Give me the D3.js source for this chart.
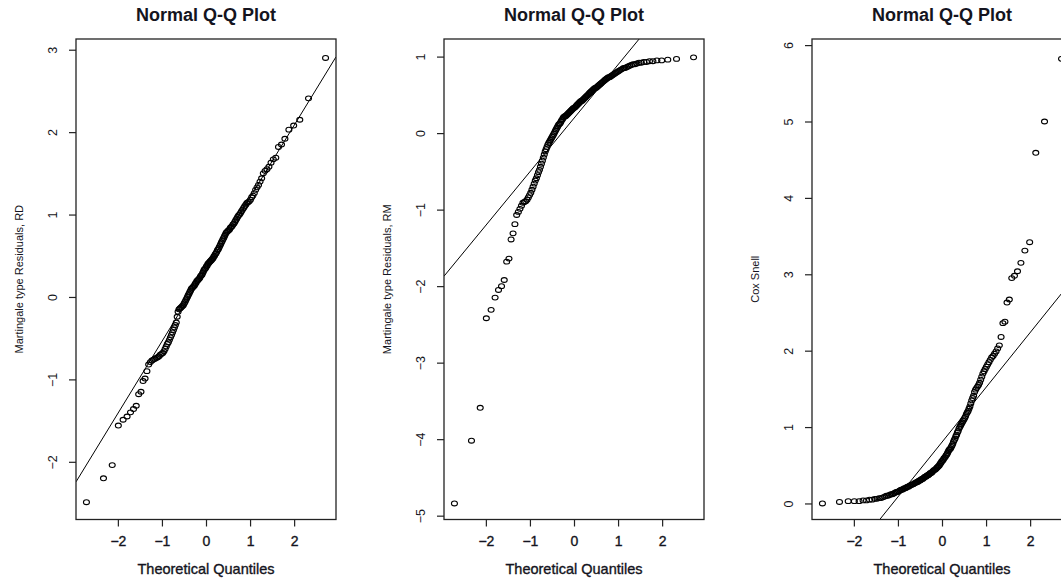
<!DOCTYPE html>
<html>
<head>
<meta charset="utf-8">
<script src="https://cdn.jsdelivr.net/npm/d3@7"></script>
<style>
body { margin: 0; background: #fff; }
svg { display: block; font-family: "Liberation Sans", Arial, sans-serif; }
</style>
</head>
<body>
<div class="div-chart"></div>
<script>
// sorted sample values (n = 150 each)
const rdValues = [
  -2.49,-2.20,-2.04,-1.56,-1.49,-1.45,-1.40,-1.36,-1.32,-1.18,
  -1.15,-1.02,-0.99,-0.90,-0.82,-0.79,-0.77,-0.76,-0.75,-0.74,
  -0.73,-0.72,-0.70,-0.69,-0.68,-0.66,-0.63,-0.60,-0.57,-0.55,
  -0.52,-0.49,-0.46,-0.43,-0.40,-0.37,-0.34,-0.31,-0.24,-0.18,
  -0.15,-0.14,-0.13,-0.12,-0.11,-0.10,-0.08,-0.06,-0.04,-0.02,
  0.00,0.02,0.04,0.06,0.08,0.10,0.11,0.12,0.13,0.14,
  0.16,0.17,0.19,0.20,0.21,0.22,0.23,0.25,0.26,0.27,
  0.29,0.31,0.33,0.34,0.35,0.37,0.38,0.40,0.41,0.42,
  0.43,0.44,0.45,0.46,0.47,0.49,0.50,0.52,0.53,0.55,
  0.57,0.58,0.60,0.62,0.64,0.66,0.68,0.70,0.72,0.74,
  0.76,0.78,0.79,0.80,0.81,0.82,0.84,0.85,0.86,0.88,
  0.89,0.91,0.93,0.95,0.97,0.99,1.00,1.02,1.04,1.06,
  1.08,1.10,1.12,1.14,1.15,1.16,1.18,1.21,1.23,1.26,
  1.30,1.33,1.36,1.40,1.44,1.50,1.53,1.55,1.58,1.63,
  1.67,1.69,1.82,1.85,1.92,2.03,2.08,2.15,2.41,2.90
];

const rmValues = [
  -4.84,-4.02,-3.59,-2.42,-2.31,-2.15,-2.05,-2.00,-1.92,-1.68,
  -1.64,-1.39,-1.31,-1.19,-1.07,-1.03,-0.99,-0.95,-0.91,-0.90,
  -0.89,-0.87,-0.84,-0.81,-0.78,-0.74,-0.70,-0.66,-0.62,-0.59,
  -0.55,-0.51,-0.48,-0.44,-0.40,-0.36,-0.32,-0.28,-0.24,-0.21,
  -0.18,-0.15,-0.13,-0.11,-0.09,-0.07,-0.05,-0.03,-0.01,0.01,
  0.03,0.05,0.07,0.09,0.11,0.12,0.13,0.15,0.17,0.18,
  0.20,0.21,0.22,0.22,0.23,0.24,0.25,0.26,0.27,0.28,
  0.29,0.30,0.31,0.32,0.33,0.33,0.34,0.35,0.36,0.37,
  0.38,0.39,0.40,0.41,0.42,0.42,0.43,0.44,0.45,0.46,
  0.47,0.48,0.49,0.50,0.51,0.52,0.53,0.54,0.55,0.56,
  0.57,0.58,0.59,0.59,0.60,0.61,0.62,0.63,0.64,0.65,
  0.66,0.67,0.68,0.69,0.70,0.71,0.72,0.73,0.73,0.74,
  0.75,0.76,0.77,0.78,0.79,0.80,0.81,0.82,0.83,0.84,
  0.85,0.85,0.86,0.87,0.88,0.89,0.90,0.90,0.91,0.92,
  0.92,0.93,0.93,0.94,0.94,0.95,0.95,0.96,0.97,0.99
];

const csValues = [
  0.00,0.02,0.03,0.03,0.03,0.04,0.04,0.05,0.05,0.06,
  0.06,0.07,0.07,0.08,0.09,0.10,0.10,0.11,0.12,0.12,
  0.13,0.14,0.15,0.15,0.16,0.17,0.18,0.18,0.19,0.20,
  0.20,0.21,0.22,0.22,0.23,0.24,0.24,0.25,0.25,0.26,
  0.27,0.27,0.28,0.28,0.29,0.30,0.30,0.31,0.32,0.32,
  0.33,0.34,0.35,0.35,0.36,0.37,0.37,0.38,0.39,0.40,
  0.40,0.41,0.42,0.43,0.44,0.44,0.45,0.46,0.47,0.48,
  0.49,0.50,0.52,0.53,0.55,0.56,0.57,0.59,0.60,0.61,
  0.63,0.64,0.66,0.68,0.70,0.71,0.72,0.74,0.76,0.78,
  0.81,0.83,0.85,0.88,0.90,0.93,0.95,0.98,1.00,1.02,
  1.04,1.06,1.08,1.10,1.12,1.14,1.17,1.19,1.21,1.24,
  1.27,1.31,1.35,1.38,1.41,1.46,1.49,1.51,1.53,1.55,
  1.58,1.62,1.66,1.70,1.73,1.76,1.79,1.82,1.85,1.88,
  1.91,1.93,1.96,1.99,2.03,2.07,2.18,2.36,2.38,2.63,
  2.67,2.95,2.98,3.04,3.15,3.31,3.42,4.59,5.00,5.82
];

const titles = ['Normal Q-Q Plot', 'Normal Q-Q Plot', 'Normal Q-Q Plot'];
const yLabels = ['Martingale type Residuals, RD', 'Martingale type Residuals, RM', 'Cox Snell'];
const xLabel = 'Theoretical Quantiles';
const xDomain = [-2.95, 2.95];
const xTicks = [-2, -1, 0, 1, 2];
const yDomains = [[-2.70, 3.13], [-5.05, 1.23], [-0.21, 6.08]];
const yTicks = [[-2, -1, 0, 1, 2, 3], [-5, -4, -3, -2, -1, 0, 1], [0, 1, 2, 3, 4, 5, 6]];
// reference line (qqline)
const lineIntercepts = [0.335, 0.195, 0.803];
const lineSlopes = [0.874, 0.70, 0.717];

// inverse normal cdf (Acklam)
function qnorm(p) {
    const a = [-39.69683028665376, 220.9460984245205, -275.9285104469687, 138.3577518672690, -30.66479806614716, 2.506628277459239];
    const b = [-54.47609879822406, 161.5858368580409, -155.6989798598866, 66.80131188771972, -13.28068155288572];
    const c = [-0.007784894002430293, -0.3223964580411365, -2.400758277161838, -2.549732539343734, 4.374664141464968, 2.938163982698783];
    const d = [0.007784695709041462, 0.3224671290700398, 2.445134137142996, 3.754408661907416];
    const plow = 0.02425;
    let q, r;
    if (p < plow) {
        q = Math.sqrt(-2 * Math.log(p));
        return (((((c[0]*q+c[1])*q+c[2])*q+c[3])*q+c[4])*q+c[5]) / ((((d[0]*q+d[1])*q+d[2])*q+d[3])*q+1);
    }
    if (p > 1 - plow) {
        q = Math.sqrt(-2 * Math.log(1 - p));
        return -(((((c[0]*q+c[1])*q+c[2])*q+c[3])*q+c[4])*q+c[5]) / ((((d[0]*q+d[1])*q+d[2])*q+d[3])*q+1);
    }
    q = p - 0.5;
    r = q * q;
    return (((((a[0]*r+a[1])*r+a[2])*r+a[3])*r+a[4])*r+a[5])*q / (((((b[0]*r+b[1])*r+b[2])*r+b[3])*r+b[4])*r+1);
}

const samples = [rdValues, rmValues, csValues];

const width = 1061, height = 579;
const panelLeft = [76, 444, 812];
const boxW = 260, boxTop = 39, boxBottom = 519.5;
const ink = '#141420';

const svg = d3.select('.div-chart')
    .append('svg')
    .attr('width', width)
    .attr('height', height);

samples.forEach((values, k) => {
    const n = values.length;
    const pts = values.map((v, i) => ({ x: qnorm((i + 0.5) / n), y: v }));

    const xScale = d3.scaleLinear().domain(xDomain).range([0, boxW]);
    const yScale = d3.scaleLinear().domain(yDomains[k]).range([boxBottom - boxTop, 0]);
    const innerH = boxBottom - boxTop;

    const g = svg.append('g')
        .attr('transform', `translate(${panelLeft[k]},${boxTop})`);

    g.append('clipPath').attr('id', 'clip' + k)
        .append('rect').attr('width', boxW).attr('height', innerH);

    // qqline
    g.append('line')
        .attr('clip-path', `url(#clip${k})`)
        .attr('x1', xScale(xDomain[0]))
        .attr('y1', yScale(lineIntercepts[k] + lineSlopes[k] * xDomain[0]))
        .attr('x2', xScale(xDomain[1]))
        .attr('y2', yScale(lineIntercepts[k] + lineSlopes[k] * xDomain[1]))
        .attr('stroke', '#000')
        .attr('stroke-width', 1);

    // points
    g.selectAll('.dot')
        .data(pts)
        .enter().append('ellipse')
        .attr('class', 'dot')
        .attr('cx', d => xScale(d.x))
        .attr('cy', d => yScale(d.y))
        .attr('rx', 3)
        .attr('ry', 2.4)
        .attr('fill', 'none')
        .attr('stroke', '#000')
        .attr('stroke-width', 1.1);

    // box
    g.append('rect')
        .attr('width', boxW)
        .attr('height', innerH)
        .attr('fill', 'none')
        .attr('stroke', '#222')
        .attr('stroke-width', 1.3);

    // x axis
    const xAxis = g.append('g')
        .attr('transform', `translate(0,${innerH})`)
        .call(d3.axisBottom(xScale).tickValues(xTicks).tickSize(7).tickPadding(10).tickFormat(d3.format('d')));
    xAxis.select('.domain').remove();
    xAxis.selectAll('line').attr('stroke', '#222').attr('stroke-width', 1.2);
    xAxis.selectAll('text')
        .attr('font-size', 14)
        .attr('fill', ink)
        .attr('stroke', ink)
        .attr('stroke-width', 0.35)
        .attr('font-family', null);

    // y axis with rotated labels
    const yAxis = g.append('g')
        .call(d3.axisLeft(yScale).tickValues(yTicks[k]).tickSize(7).tickFormat(d3.format('d')));
    yAxis.select('.domain').remove();
    yAxis.selectAll('line').attr('stroke', '#222').attr('stroke-width', 1.2);
    yAxis.selectAll('text')
        .attr('transform', 'rotate(-90)')
        .attr('x', 0)
        .attr('y', -19)
        .attr('dy', 0)
        .attr('text-anchor', 'middle')
        .attr('font-size', 12.5)
        .attr('fill', ink)
        .attr('font-family', null);

    // title
    g.append('text')
        .attr('x', boxW / 2)
        .attr('y', 20.5 - boxTop)
        .attr('text-anchor', 'middle')
        .attr('font-size', 18)
        .attr('font-weight', 'bold')
        .attr('fill', ink)
        .text(titles[k]);

    // x label
    g.append('text')
        .attr('x', boxW / 2)
        .attr('y', 574 - boxTop)
        .attr('text-anchor', 'middle')
        .attr('font-size', 14.5)
        .attr('fill', ink)
        .attr('stroke', ink)
        .attr('stroke-width', 0.35)
        .text(xLabel);

    // y label
    g.append('text')
        .attr('transform', `translate(-53.5,${innerH / 2}) rotate(-90)`)
        .attr('text-anchor', 'middle')
        .attr('font-size', 11)
        .attr('fill', ink)
        .text(yLabels[k]);
});
</script>
</body>
</html>
